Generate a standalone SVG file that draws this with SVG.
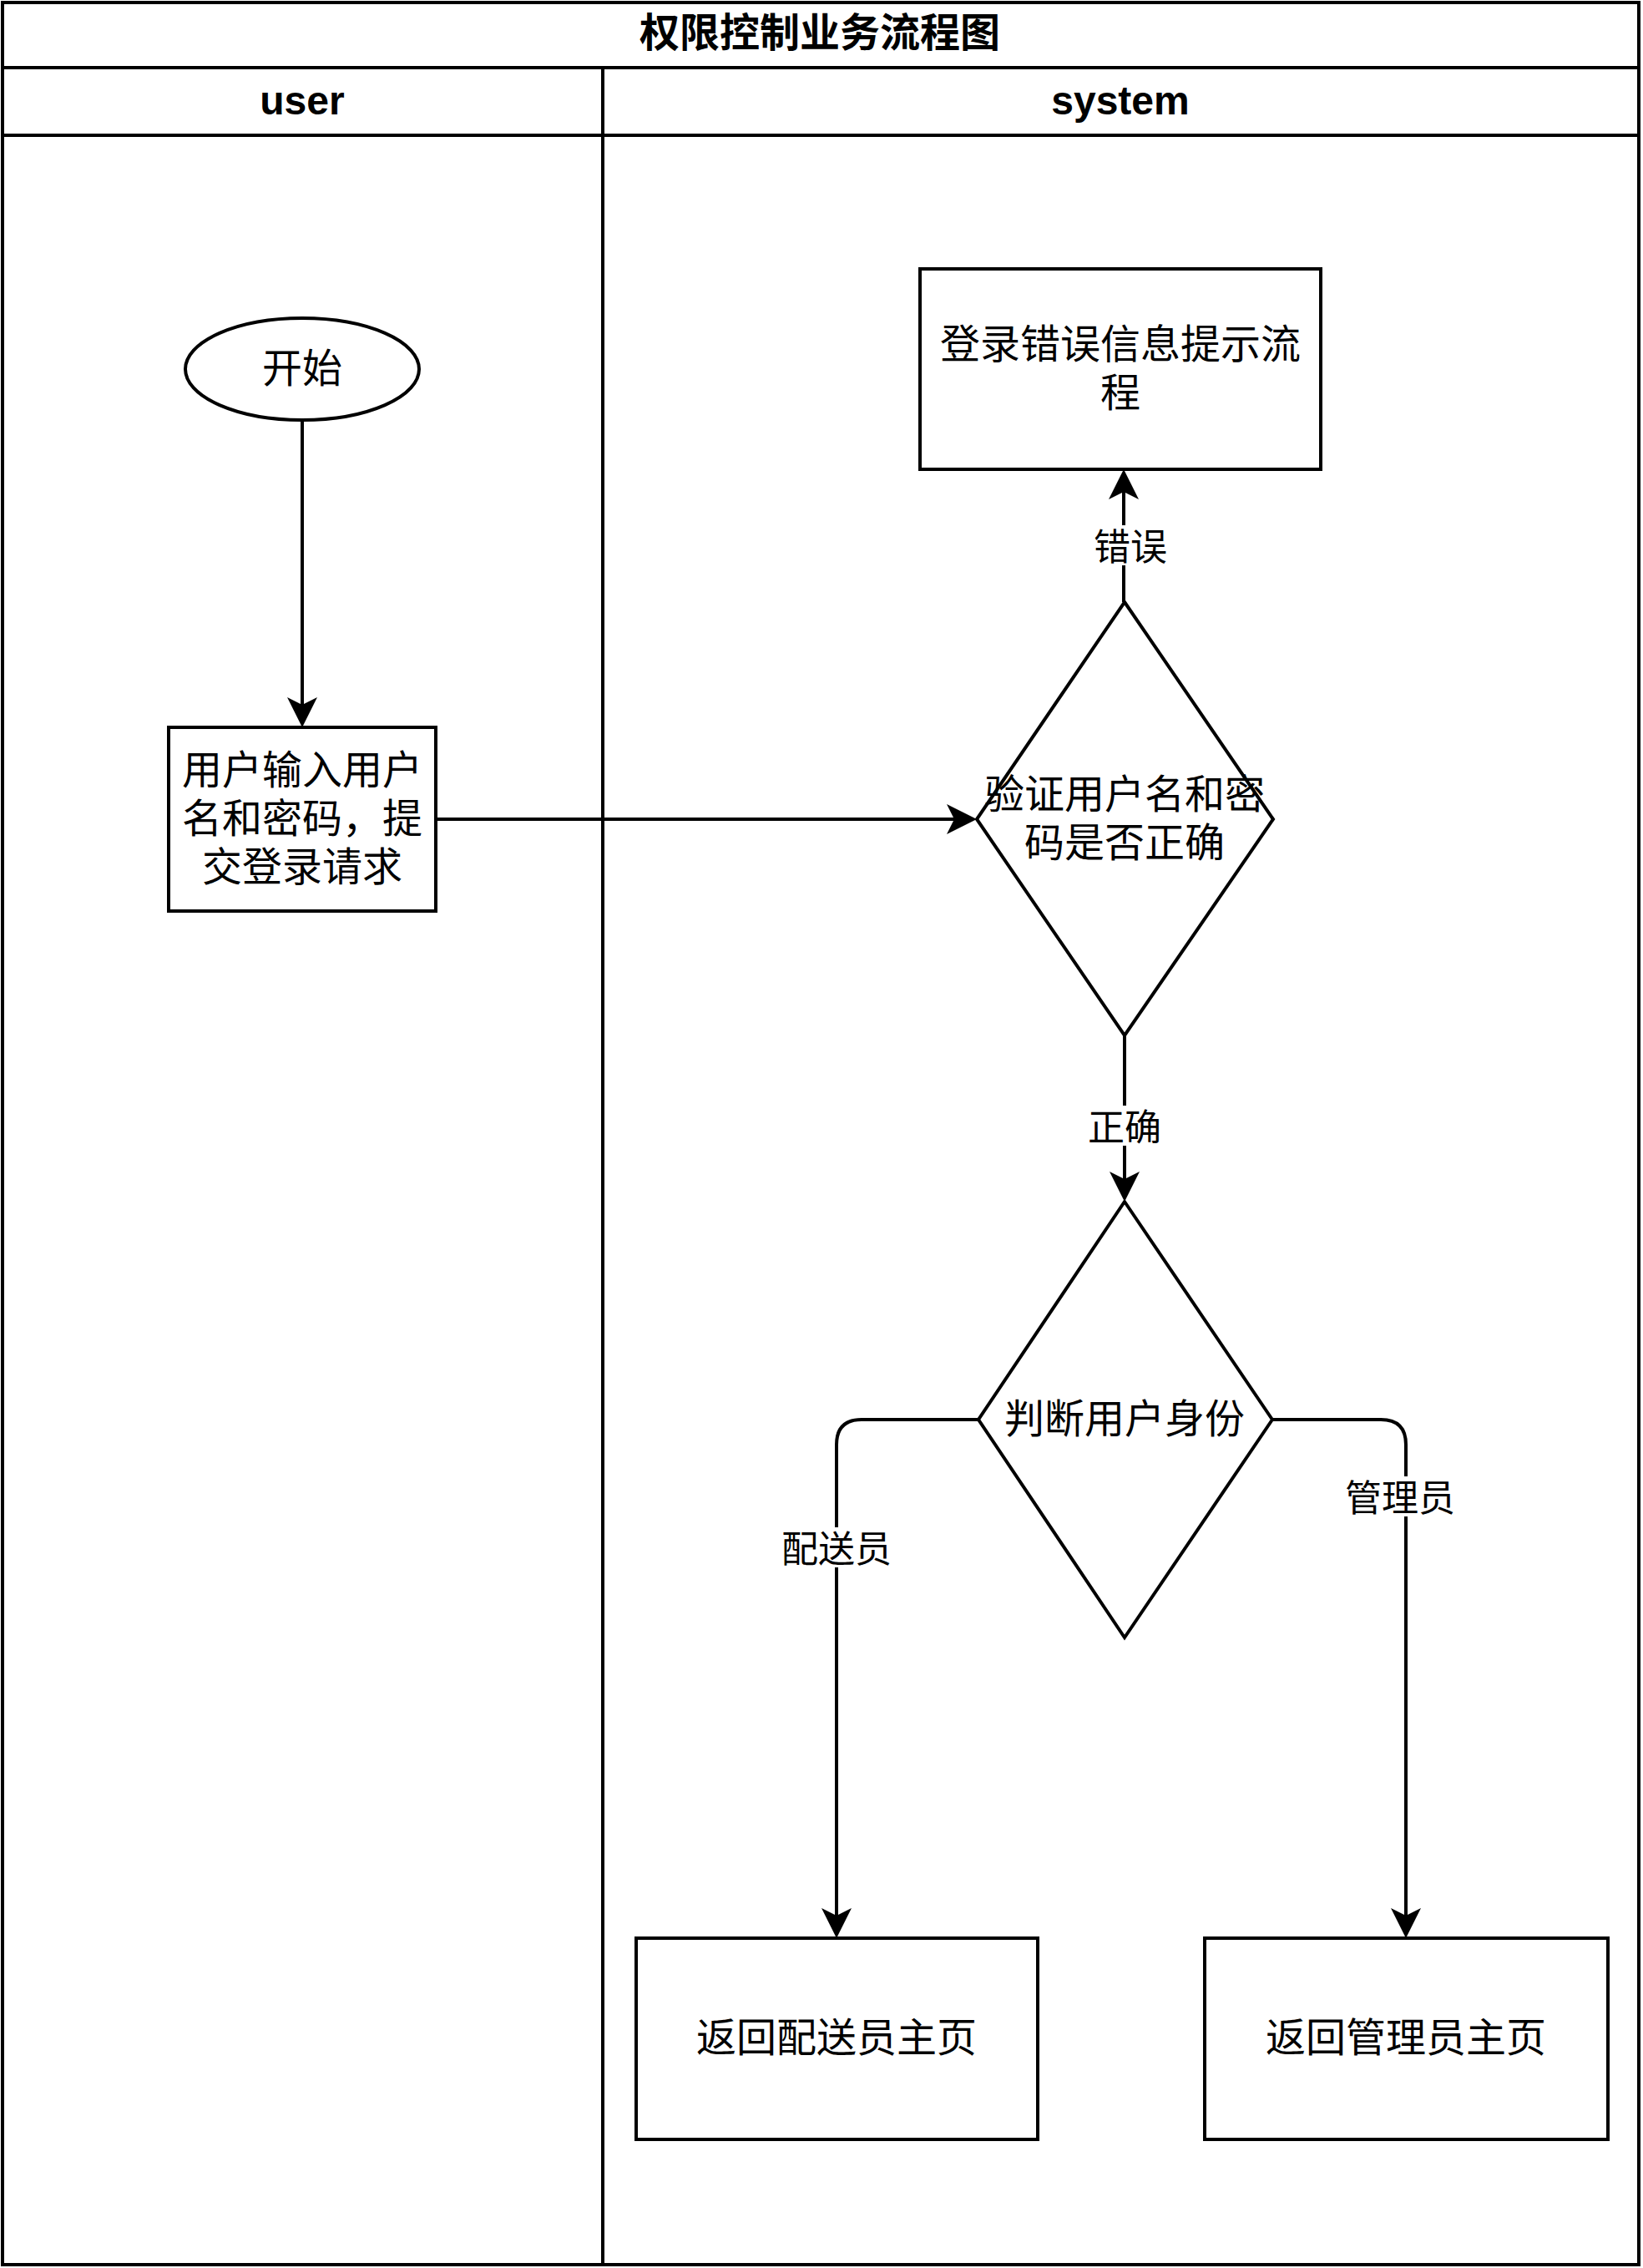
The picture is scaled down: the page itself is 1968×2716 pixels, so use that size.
<svg xmlns="http://www.w3.org/2000/svg" width="1968" height="2716" viewBox="0 0 1968 2716">
  <style>
    .frame { fill: none; stroke: #000; stroke-width: 4; }
    .shape { fill: #fff; stroke: #000; stroke-width: 4; }
    .edge { fill: none; stroke: #000; stroke-width: 4; }
    .hdr { font-family: "Liberation Sans", "Noto Sans CJK SC", sans-serif; font-weight: bold; font-size: 48px; text-anchor: middle; fill: #000; }
    .title { font-family: "Noto Sans CJK SC", sans-serif; font-weight: bold; font-size: 48px; text-anchor: middle; dominant-baseline: central; fill: #000; }
    .txt { font-family: "Noto Sans CJK SC", sans-serif; font-size: 48px; text-anchor: middle; dominant-baseline: central; fill: #000; }
    .lbl { font-family: "Noto Sans CJK SC", sans-serif; font-size: 44px; text-anchor: middle; dominant-baseline: central; fill: #000; }
    .lblbg { fill: #fff; stroke: none; }
  </style>
  <defs>
    <marker id="arrow" markerUnits="userSpaceOnUse" markerWidth="36" markerHeight="36" viewBox="0 0 36 36" refX="9" refY="18" orient="auto">
      <path d="M0,0 L36,18 L0,36 L9,18 Z" fill="#000"/>
    </marker>
  </defs>

  <rect x="0" y="0" width="1968" height="2716" fill="#fff"/>

  <!-- pool with two lanes -->
  <g id="pool">
    <rect class="frame" x="3" y="3" width="1960" height="2709"/>
    <line class="frame" x1="3" y1="81" x2="1963" y2="81"/>
    <line class="frame" x1="3" y1="162" x2="1963" y2="162"/>
    <line class="frame" x1="722" y1="81" x2="722" y2="2712"/>
    <text class="title" x="982" y="35">权限控制业务流程图</text>
  </g>
  <g id="lane-user">
    <text class="hdr" x="362" y="137">user</text>
  </g>
  <g id="lane-system">
    <text class="hdr" x="1342" y="137">system</text>
  </g>

  <!-- connectors -->
  <g id="connectors">
    <path class="edge" d="M362,503 L362,844" marker-end="url(#arrow)"/>
    <path class="edge" d="M522,981 L1143,981" marker-end="url(#arrow)"/>
    <path class="edge" d="M1346,721 L1346,589" marker-end="url(#arrow)"/>
    <path class="edge" d="M1347,1240 L1347,1412" marker-end="url(#arrow)"/>
    <path class="edge" d="M1172,1700 L1032,1700 Q1002,1700 1002,1730 L1002,2294" marker-end="url(#arrow)"/>
    <path class="edge" d="M1524,1700 L1654,1700 Q1684,1700 1684,1730 L1684,2294" marker-end="url(#arrow)"/>

    <rect class="lblbg" x="1308" y="629" width="92" height="48"/>
    <text class="lbl" x="1354" y="652">错误</text>
    <rect class="lblbg" x="1302" y="1324" width="90" height="48"/>
    <text class="lbl" x="1347" y="1347">正确</text>
    <rect class="lblbg" x="934" y="1829" width="136" height="48"/>
    <text class="lbl" x="1002" y="1852">配送员</text>
    <rect class="lblbg" x="1609" y="1768" width="136" height="48"/>
    <text class="lbl" x="1677" y="1791">管理员</text>
  </g>

  <!-- nodes -->
  <g id="start">
    <ellipse class="shape" cx="362" cy="442" rx="140" ry="61"/>
    <text class="txt" x="362" y="437">开始</text>
  </g>

  <g id="submit-login">
    <rect class="shape" x="202" y="871" width="320" height="220"/>
    <text class="txt" x="362" y="918">用户输入用户<tspan x="362" dy="58">名和密码，提</tspan><tspan x="362" dy="58">交登录请求</tspan></text>
  </g>

  <g id="login-error">
    <rect class="shape" x="1102" y="322" width="480" height="240"/>
    <text class="txt" x="1342" y="408">登录错误信息提示流<tspan x="1342" dy="58">程</tspan></text>
  </g>

  <g id="verify-credentials">
    <polygon class="shape" points="1347,721 1525,981 1347,1240 1170,981"/>
    <text class="txt" x="1347" y="947">验证用户名和密<tspan x="1347" dy="58">码是否正确</tspan></text>
  </g>

  <g id="check-role">
    <polygon class="shape" points="1347,1439 1524,1700 1347,1961 1172,1700"/>
    <text class="txt" x="1347" y="1695">判断用户身份</text>
  </g>

  <g id="courier-home">
    <rect class="shape" x="762" y="2321" width="481" height="241"/>
    <text class="txt" x="1002" y="2436">返回配送员主页</text>
  </g>

  <g id="admin-home">
    <rect class="shape" x="1443" y="2321" width="483" height="241"/>
    <text class="txt" x="1684" y="2436">返回管理员主页</text>
  </g>
</svg>
